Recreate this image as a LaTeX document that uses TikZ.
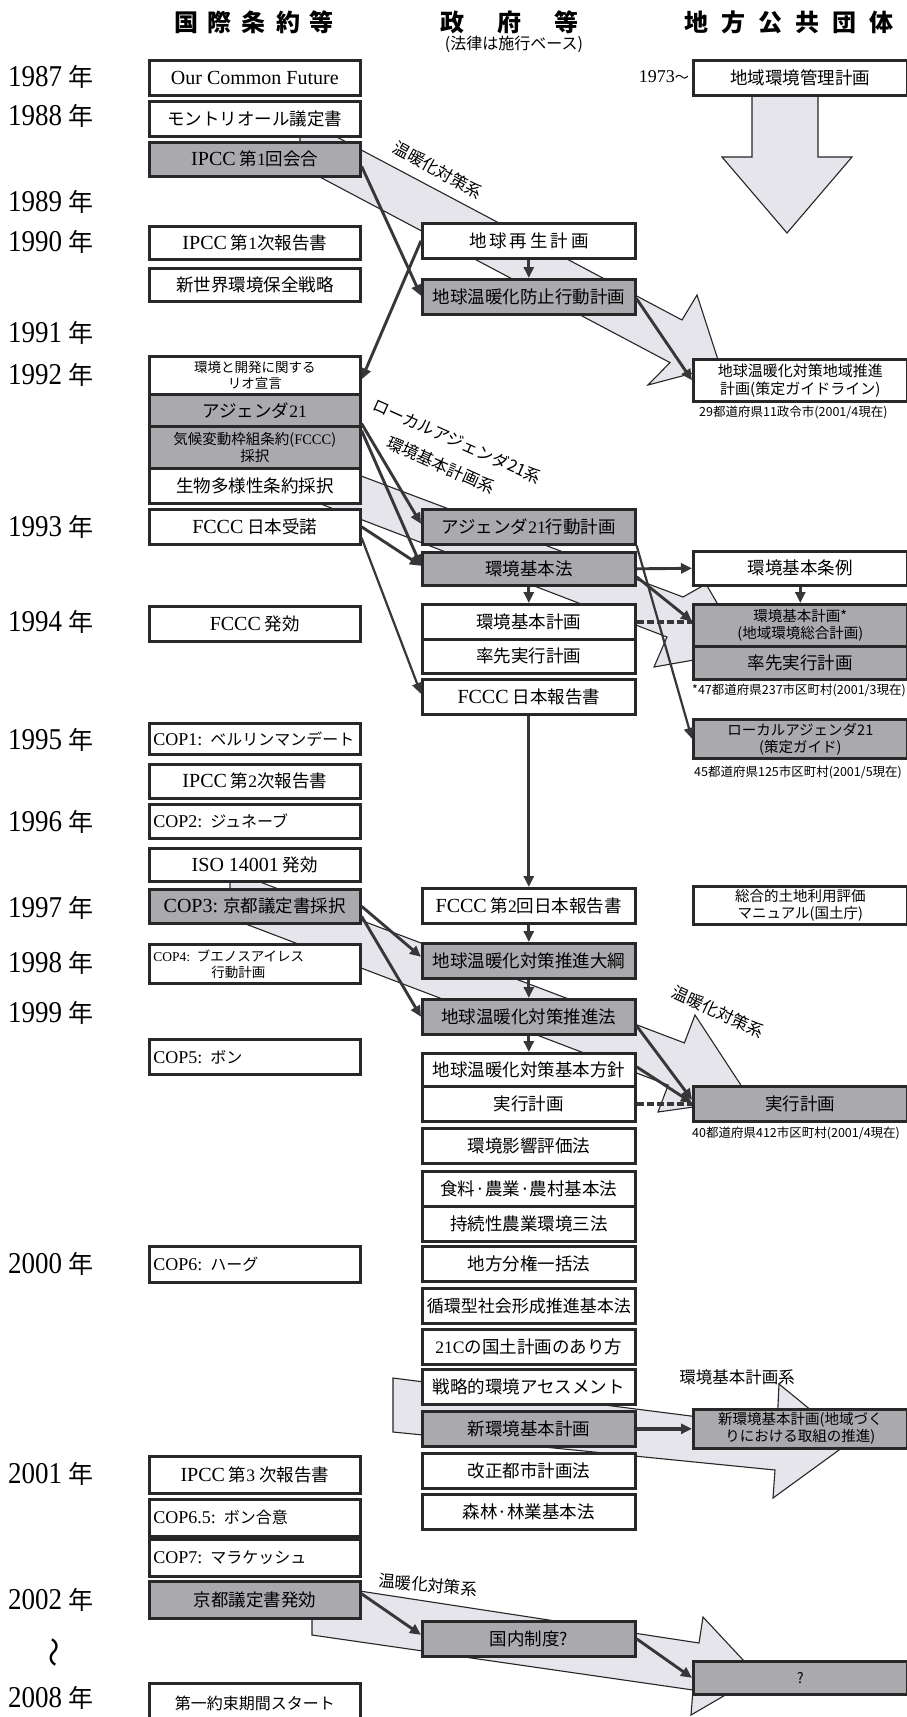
\documentclass[tikz,border=0pt]{standalone}
\usepackage{fontspec}
\usepackage{graphicx}
\setmainfont{Liberation Serif}
\newfontfamily\jp{Noto Sans CJK JP}
\usetikzlibrary{arrows.meta}
\definecolor{boxgray}{RGB}{170,170,174}
\definecolor{bandfill}{RGB}{229,229,235}
\definecolor{boxline}{RGB}{40,40,40}
\definecolor{connc}{RGB}{55,55,55}
\newcommand\lat[1]{{\rmfamily\fontsize{20}{22}\selectfont #1}}
\newcommand\latc[1]{{\rmfamily\fontsize{18}{20}\selectfont #1}}
\newcommand\lats[1]{{\rmfamily #1}}
\newcommand\yrtxt[1]{\scalebox{1}[1.12]{{\rmfamily\fontsize{27}{28}\selectfont #1}}\hspace{6pt}{\jp\fontsize{25}{28}\selectfont 年}}
\begin{document}
\begin{tikzpicture}[x=1pt,y=-1pt,
  wbox/.style={draw=boxline, line width=2.6pt, fill=white, inner sep=1pt, align=center, anchor=north west, font=\jp\fontsize{17.5}{20}\selectfont},
  gbox/.style={wbox, fill=boxgray},
  lc/.style={minimum width=211pt},
  mc/.style={minimum width=213pt},
  rc/.style={minimum width=214pt},
  lft/.style={align=left, text width=203pt, inner xsep=4pt},
  sm/.style={font=\jp\fontsize{14.5}{17}\selectfont},
  xs/.style={font=\jp\fontsize{13.5}{16}\selectfont},
  cop/.style={font=\jp\fontsize{16}{18}\selectfont},
  band/.style={draw=black!85, line width=1.1pt, fill=bandfill, line join=miter},
  conn/.style={draw=connc, line width=2.9pt, -{Triangle[length=11pt,width=10pt]}},
  dconn/.style={draw=connc, line width=3.6pt, dash pattern=on 7pt off 3pt},
  yr/.style={anchor=west, inner sep=0},
  lab/.style={font=\jp\fontsize{16.5}{18}\selectfont, inner sep=0},
  note/.style={font=\jp\fontsize{12.5}{14}\selectfont, anchor=west, inner sep=0},
  hd/.style={font=\jp\bfseries\fontsize{24}{26}\selectfont, inner sep=0},
]
\useasboundingbox (0,0) rectangle (907,1717);
\clip (0,0) rectangle (907,1717);
\fill[white] (0,0) rectangle (907,1717);

% ---------- big grey arrows (bands) ----------
\draw[band] (300,117.5) -- (682,320) -- (697,295) -- (720,366) -- (648,385) -- (670,362.6) -- (300,166.5) -- cycle;
\draw[band] (300,453) -- (683,597) -- (706,584) -- (745,651) -- (654,667) -- (667,637) -- (300,496) -- cycle;
\draw[band] (230,870.6) -- (684.4,1042.9) -- (695,1015) -- (750,1099) -- (658,1112) -- (668.2,1085.1) -- (230,918) -- cycle;
\draw[band] (393,1378) -- (777,1427) -- (779,1384) -- (850,1442) -- (773,1498) -- (775,1470) -- (393,1432) -- cycle;
\draw[band] (312,1583.7) -- (699,1643) -- (703,1617) -- (758,1676) -- (691,1715) -- (693,1690) -- (312,1635) -- cycle;
% down arrow (right, top)
\draw[band] (752,96) -- (818,96) -- (818,157) -- (852,157) -- (787,233) -- (722,157) -- (752,157) -- cycle;

% ---------- headers ----------
\node[hd] (H1) at (254,22) {国\hspace{10pt}際\hspace{10pt}条\hspace{10pt}約\hspace{10pt}等};
\node[hd] (H2) at (509,22) {政\hspace{33pt}府\hspace{33pt}等};
\node[hd] (H3) at (789,22) {地\hspace{13pt}方\hspace{13pt}公\hspace{13pt}共\hspace{13pt}団\hspace{13pt}体};
\node[font=\jp\fontsize{16}{18}\selectfont, inner sep=0] (H2s) at (514,44) {(法律は施行ベース)};

% ---------- years ----------
\node[yr] (Y87) at (8,77) {\yrtxt{1987}};
\node[yr] (Y88) at (8,116) {\yrtxt{1988}};
\node[yr] (Y89) at (8,202) {\yrtxt{1989}};
\node[yr] (Y90) at (8,242) {\yrtxt{1990}};
\node[yr] (Y91) at (8,333) {\yrtxt{1991}};
\node[yr] (Y92) at (8,375) {\yrtxt{1992}};
\node[yr] (Y93) at (8,527) {\yrtxt{1993}};
\node[yr] (Y94) at (8,622) {\yrtxt{1994}};
\node[yr] (Y95) at (8,740) {\yrtxt{1995}};
\node[yr] (Y96) at (8,822) {\yrtxt{1996}};
\node[yr] (Y97) at (8,908) {\yrtxt{1997}};
\node[yr] (Y98) at (8,963) {\yrtxt{1998}};
\node[yr] (Y99) at (8,1013) {\yrtxt{1999}};
\node[yr] (Y00) at (8,1264) {\yrtxt{2000}};
\node[yr] (Y01) at (8,1474) {\yrtxt{2001}};
\node[yr] (Y02) at (8,1600) {\yrtxt{2002}};
\node[rotate=90, inner sep=0, font=\jp\fontsize{30}{30}\selectfont] (WV) at (58,1652) {〜};
\node[yr] (Y08) at (8,1698) {\yrtxt{2008}};
\node[anchor=east, inner sep=0, font=\rmfamily\fontsize{18}{20}\selectfont] (Y73) at (689,77) {1973{\jp\fontsize{14}{14}\selectfont 〜}};

% ---------- left column ----------
\node[wbox,lc,minimum height=35pt] (L1) at (148,59) {\lat{Our Common Future}};
\node[wbox,lc,minimum height=35pt] (L2) at (148,100) {モントリオール議定書};
\node[gbox,lc,minimum height=34pt] (L3) at (148,141) {\lat{IPCC} 第\lats{1}回会合};
\node[wbox,lc,minimum height=33pt] (L4) at (148,225) {\lat{IPCC} 第\lats{1}次報告書};
\node[wbox,lc,minimum height=33pt] (L5) at (148,267) {新世界環境保全戦略};
\node[wbox,lc,minimum height=38pt,xs] (L6) at (148,355) {環境と開発に関する\\リオ宣言};
\node[gbox,lc,minimum height=32pt] (L7) at (148,393) {アジェンダ\lats{21}};
\node[gbox,lc,minimum height=42pt,sm] (L8) at (148,425) {気候変動枠組条約(\lats{FCCC})\\採択};
\node[wbox,lc,minimum height=35pt] (L9) at (148,467) {生物多様性条約採択};
\node[wbox,lc,minimum height=35pt] (L10) at (148,508) {\lat{FCCC} 日本受諾};
\node[wbox,lc,minimum height=35pt] (L11) at (148,605) {\lat{FCCC} 発効};
\node[wbox,lc,lft,cop,minimum height=31pt] (L12) at (148,722) {\latc{COP1:} ベルリンマンデート};
\node[wbox,lc,minimum height=34pt] (L13) at (148,763) {\lat{IPCC} 第\lats{2}次報告書};
\node[wbox,lc,lft,cop,minimum height=34pt] (L14) at (148,803) {\latc{COP2:} ジュネーブ};
\node[wbox,lc,minimum height=33pt] (L15) at (148,847) {\lat{ISO 14001} 発効};
\node[gbox,lc,minimum height=34pt] (L16) at (148,888) {\lat{COP3:} 京都議定書採択};
\node[wbox,lc,lft,xs,minimum height=39pt] (L17) at (148,943) {\lats{COP4:} ブエノスアイレス\\\hspace*{58pt}行動計画};
\node[wbox,lc,lft,cop,minimum height=35pt] (L18) at (148,1038) {\latc{COP5:} ボン};
\node[wbox,lc,lft,cop,minimum height=36pt] (L19) at (148,1245) {\latc{COP6:} ハーグ};
\node[wbox,lc,minimum height=37pt] (L20) at (148,1455) {\lat{IPCC} 第\lats{3} 次報告書};
\node[wbox,lc,lft,cop,minimum height=37pt] (L21) at (148,1498) {\latc{COP6.5:} ボン合意};
\node[wbox,lc,lft,cop,minimum height=37pt] (L22) at (148,1538) {\latc{COP7:} マラケッシュ};
\node[gbox,lc,minimum height=37pt] (L23) at (148,1580) {京都議定書発効};
\node[wbox,lc,minimum height=40pt,cop] (L24) at (148,1682) {第一約束期間スタート};

% ---------- middle column ----------
\node[wbox,mc,minimum height=35pt] (M1) at (421,222) {地\,球\,再\,生\,計\,画};
\node[gbox,mc,minimum height=35pt] (M2) at (421,278) {地球温暖化防止行動計画};
\node[gbox,mc,minimum height=35pt] (M3) at (421,508) {アジェンダ\lats{21}行動計画};
\node[gbox,mc,minimum height=33pt] (M4) at (421,551) {環境基本法};
\node[wbox,mc,minimum height=35pt] (M5) at (421,603) {環境基本計画};
\node[wbox,mc,minimum height=34pt] (M6) at (421,638) {率先実行計画};
\node[wbox,mc,minimum height=35pt] (M7) at (421,678) {\lat{FCCC} 日本報告書};
\node[wbox,mc,minimum height=35pt] (M8) at (421,887) {\lat{FCCC} 第\lats{2}回日本報告書};
\node[gbox,mc,minimum height=35pt] (M9) at (421,942) {地球温暖化対策推進大綱};
\node[gbox,mc,minimum height=35pt] (M10) at (421,998) {地球温暖化対策推進法};
\node[wbox,mc,minimum height=33pt] (M11) at (421,1052) {地球温暖化対策基本方針};
\node[wbox,mc,minimum height=35pt] (M12) at (421,1085) {実行計画};
\node[wbox,mc,minimum height=35pt] (M13) at (421,1127) {環境影響評価法};
\node[wbox,mc,minimum height=35pt] (M14) at (421,1170) {食料·農業·農村基本法};
\node[wbox,mc,minimum height=35pt] (M15) at (421,1205) {持続性農業環境三法};
\node[wbox,mc,minimum height=35pt] (M16) at (421,1245) {地方分権一括法};
\node[wbox,mc,minimum height=35pt,font=\jp\fontsize{17}{19}\selectfont] (M17) at (421,1287) {循環型社会形成推進基本法};
\node[wbox,mc,minimum height=35pt] (M18) at (421,1328) {\lats{21C}の国土計画のあり方};
\node[wbox,mc,minimum height=35pt] (M19) at (421,1368) {戦略的環境アセスメント};
\node[gbox,mc,minimum height=35pt] (M20) at (421,1410) {新環境基本計画};
\node[wbox,mc,minimum height=35pt] (M21) at (421,1452) {改正都市計画法};
\node[wbox,mc,minimum height=35pt] (M22) at (421,1493) {森林·林業基本法};
\node[gbox,mc,minimum height=35pt] (M23) at (421,1620) {国内制度?};

% ---------- right column ----------
\node[wbox,rc,minimum height=35pt] (R1) at (692,59) {地域環境管理計画};
\node[wbox,rc,minimum height=42pt,font=\jp\fontsize{15}{18}\selectfont] (R2) at (692,358) {地球温暖化対策地域推進\\計画(策定ガイドライン)};
\node[wbox,rc,minimum height=34pt] (R3) at (692,550) {環境基本条例};
\node[gbox,rc,minimum height=42pt,sm] (R4) at (692,603) {環境基本計画*\\(地域環境総合計画)};
\node[gbox,rc,minimum height=33pt] (R5) at (692,645) {率先実行計画};
\node[gbox,rc,minimum height=39pt,sm] (R6) at (692,718) {ローカルアジェンダ21\\(策定ガイド)};
\node[wbox,rc,minimum height=38pt,sm] (R7) at (692,885) {総合的土地利用評価\\マニュアル(国土庁)};
\node[gbox,rc,minimum height=35pt] (R8) at (692,1085) {実行計画};
\node[gbox,rc,minimum height=39pt,sm] (R9) at (692,1408) {新環境基本計画(地域づく\\りにおける取組の推進)};
\node[gbox,rc,minimum height=33pt,sm] (R10) at (692,1660) {?};

% ---------- notes ----------
\node[note] (N1) at (699,412) {29都道府県11政令市(2001/4現在)};
\node[note] (N2) at (692,690) {*47都道府県237市区町村(2001/3現在)};
\node[note] (N3) at (694,772) {45都道府県125市区町村(2001/5現在)};
\node[note] (N4) at (692,1133) {40都道府県412市区町村(2001/4現在)};

% ---------- band labels ----------
\node[lab, rotate=-29] (T1) at (438,170) {温暖化対策系};
\node[lab, rotate=-24] (T2) at (457,441) {ローカルアジェンダ21系};
\node[lab, rotate=-24] (T3) at (441,465) {環境基本計画系};
\node[lab, rotate=-25] (T4) at (718,1012) {温暖化対策系};
\node[lab] (T5) at (737,1377) {環境基本計画系};
\node[lab, rotate=-5] (T6) at (428,1585) {温暖化対策系};

% ---------- connectors ----------
\draw[conn] ([yshift=-7pt]L3.east) -- ([yshift=1pt]M2.west);
\draw[conn] (M1.west) -- ([yshift=-4pt]L6.east);
\draw[conn] (M1.south) -- (M2.north);
\draw[conn] ([yshift=-2pt]M2.east) -- (R2.west);
\draw[conn] ([yshift=4pt]L7.south east) -- ([yshift=3pt]M3.west);
\draw[conn] ([yshift=-3pt]L7.south east) -- ([yshift=3pt]M4.west);
\draw[conn] (L10.east) -- ([yshift=3pt]M4.west);
\draw[conn, line width=2.2pt] ([yshift=-11pt]L10.east) -- ([yshift=3pt]M7.west);
\draw[conn] (M4.east) -- (R3.west);
\draw[conn] (M4.south) -- (M5.north);
\draw[conn] (R3.south) -- (R4.north);
\draw[conn] ([yshift=-8pt]M4.east) -- ([yshift=4pt]R4.west);
\draw[conn, line width=2.2pt] (M3.south east) -- (R6.west);
\draw[dconn] (M5.east) -- (R4.west |- M5.east);
\draw[conn] (M7.south) -- (M8.north);
\draw[conn] (M8.south) -- (M9.north);
\draw[conn] (L16.east) -- ([yshift=4pt]M9.west);
\draw[conn] ([yshift=-10pt]L16.east) -- (M10.west);
\draw[conn] (M9.south) -- (M10.north);
\draw[conn] (M10.south) -- (M11.north);
\draw[conn] ([yshift=-9pt]M10.east) -- ([yshift=4pt]R8.west);
\draw[conn] ([yshift=3pt]M11.east) -- ([yshift=1pt]R8.west);
\draw[dconn] (M12.east) -- (R8.west);
\draw[conn, line width=3.6pt] (M20.east) -- (R9.west);
\draw[conn] ([yshift=6pt]L23.east) -- ([yshift=4pt]M23.west);
\draw[conn] (M23.east) -- (R10.west);
\end{tikzpicture}
\end{document}
